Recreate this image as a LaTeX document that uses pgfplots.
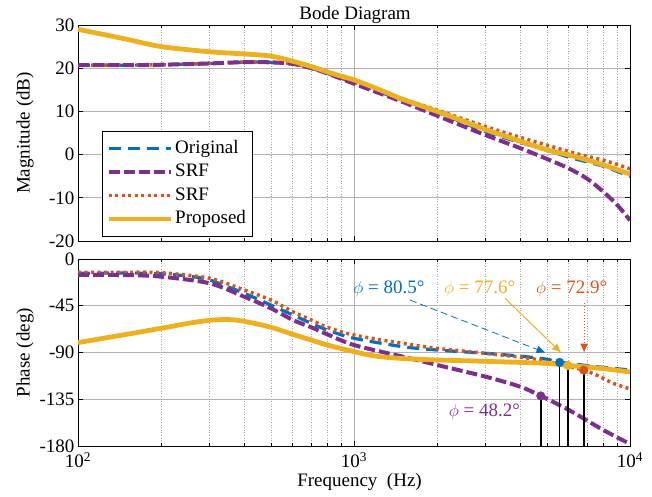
\documentclass[border=0pt]{standalone}
\usepackage{fontspec}
\setmainfont{Liberation Serif}
\usepackage{pgfplots}
\pgfplotsset{compat=1.18}
\usetikzlibrary{arrows.meta}
\definecolor{mblue}{rgb}{0,0.447,0.741}
\definecolor{morange}{rgb}{0.85,0.325,0.098}
\definecolor{myellow}{rgb}{0.929,0.694,0.125}
\definecolor{mpurple}{rgb}{0.494,0.184,0.556}
\newcommand\fs{\fontsize{19}{22}\selectfont}
\tikzset{
  sblue/.style={mblue, line width=3.2pt, dash pattern=on 12pt off 7pt},
  spurple/.style={mpurple, line width=4pt, dash pattern=on 11pt off 4pt},
  sorange/.style={morange, line width=3.5pt, dash pattern=on 3pt off 3.5pt},
  syellow/.style={myellow, line width=4.8pt},
}
\begin{document}
\begin{tikzpicture}
\useasboundingbox (0,0) rectangle (652pt,497pt);
% ---------------- Magnitude ----------------
\begin{axis}[
  xmode=log, xmin=100, xmax=10000, scale only axis, width=552pt,
  xtick={100,1000,10000},
  minor xtick={200,300,400,500,600,700,800,900,2000,3000,4000,5000,6000,7000,8000,9000},
  xtick pos=both, ytick pos=both, tick align=inside,
  major tick length=5pt, minor tick length=3pt,
  every tick/.style={black, line width=0.6pt},
  axis line style={line width=0.8pt},
  grid=both,
  major grid style={gray!60, line width=0.7pt},
  minor grid style={gray!70, line width=0.6pt, dotted},
  tick label style={font=\fs},
  label style={font=\fs},
  yticklabel style={anchor=east},
  at={(78pt,256pt)}, anchor=south west, height=216pt,
  ymin=-20, ymax=30, ytick={-20,-10,0,10,20,30},
  yticklabels={-20,-10,0,10,20,30},
  xticklabels={},
  ylabel={Magnitude (dB)},
  ylabel style={at={(axis description cs:-0.074,0.5)}, anchor=south},
  title={Bode Diagram},
  title style={font=\fs, at={(axis description cs:0.502,1.032)}, anchor=base, yshift=-7pt},
  legend cell align=left,
  legend style={at={(0.0435,0.509)}, anchor=north west, draw=black, line width=0.8pt,
    font=\fs, inner xsep=4pt, inner ysep=8pt, row sep=5.5pt,
    nodes={inner xsep=2pt, inner ysep=0pt, text height=14pt, text depth=4pt}},
]
\addlegendimage{legend image code/.code={\draw[sblue] (0pt,0pt) -- (62pt,0pt);}}\addlegendentry{Original}
\addlegendimage{legend image code/.code={\draw[spurple] (0pt,0pt) -- (62pt,0pt);}}\addlegendentry{SRF}
\addlegendimage{legend image code/.code={\draw[sorange] (0pt,0pt) -- (62pt,0pt);}}\addlegendentry{SRF}
\addlegendimage{legend image code/.code={\draw[syellow] (0pt,0pt) -- (62pt,0pt);}}\addlegendentry{Proposed}
% Original
\addplot[sblue, smooth, forget plot] coordinates {
(100,20.7) (150,20.7) (200,20.8) (300,21.1) (400,21.4) (500,21.35) (600,21.0) (700,20.0) (800,18.8)
(1000,16.6) (1250,14.4) (1500,12.6) (2000,9.8) (3000,5.3) (4000,2.8) (5000,1.0) (6000,-0.6) (7000,-1.7) (8000,-2.7) (9000,-3.9) (10000,-5.1)};
% SRF orange
\addplot[sorange, smooth, forget plot] coordinates {
(100,20.7) (150,20.7) (200,20.8) (300,21.1) (400,21.4) (500,21.35) (600,21.0) (700,20.1) (800,19.0)
(1000,16.8) (1250,14.7) (1500,12.9) (2000,10.3) (3000,6.5) (4000,4.0) (5000,2.2) (6000,0.7) (7000,-0.4) (8000,-1.3) (9000,-2.3) (10000,-3.3)};
% SRF purple
\addplot[spurple, smooth, forget plot] coordinates {
(100,20.7) (150,20.7) (200,20.8) (300,21.1) (400,21.4) (500,21.35) (600,21.0) (700,20.0) (800,18.8)
(1000,16.4) (1250,14.1) (1500,12.2) (2000,9.0) (3000,4.5) (4000,1.5) (5000,-1.0) (6000,-3.2) (7000,-5.6) (8000,-8.6) (9000,-11.7) (10000,-15.2)};
% Proposed
\addplot[syellow, smooth, forget plot] coordinates {
(100,29.0) (150,26.7) (200,25.0) (300,23.8) (400,23.3) (500,22.8) (600,21.6) (700,20.4) (850,18.6)
(1000,17.3) (1250,14.9) (1500,12.8) (2000,10.0) (3000,5.8) (4000,3.1) (5000,1.1) (6000,-0.1) (7000,-1.25) (8000,-2.4) (9000,-3.5) (10000,-4.5)};
\end{axis}
% ---------------- Phase ----------------
\begin{axis}[
  xmode=log, xmin=100, xmax=10000, scale only axis, width=552pt,
  xtick={100,1000,10000},
  minor xtick={200,300,400,500,600,700,800,900,2000,3000,4000,5000,6000,7000,8000,9000},
  xtick pos=both, ytick pos=both, tick align=inside,
  major tick length=5pt, minor tick length=3pt,
  every tick/.style={black, line width=0.6pt},
  axis line style={line width=0.8pt},
  grid=both,
  major grid style={gray!60, line width=0.7pt},
  minor grid style={gray!70, line width=0.6pt, dotted},
  tick label style={font=\fs},
  label style={font=\fs},
  yticklabel style={anchor=east},
  at={(78pt,51pt)}, anchor=south west, height=187pt,
  ymin=-180, ymax=0, ytick={-180,-135,-90,-45,0},
  yticklabels={-180,-135,-90,-45,0},
  xticklabels={10\textsuperscript{2},10\textsuperscript{3},10\textsuperscript{4}},
  xticklabel style={anchor=base, yshift=-22pt},
  ylabel={Phase (deg)},
  ylabel style={at={(axis description cs:-0.074,0.5)}, anchor=south},
  xlabel={Frequency\ \ (Hz)},
  xlabel style={at={(axis description cs:0.51,-0.214)}, anchor=base},
]
\addplot[sblue, smooth] coordinates {
(100,-13.8) (150,-13.5) (200,-14.2) (250,-16.5) (300,-20.2) (400,-33) (500,-44.3) (600,-53.9) (700,-61.9) (800,-68.3)
(1000,-76.3) (1500,-84.4) (2000,-87.6) (3000,-90.8) (4000,-93.5) (5000,-96.5) (5560,-99.3) (7800,-104) (10000,-106.8)};
\addplot[sorange, smooth] coordinates {
(100,-13) (150,-12.8) (200,-13.2) (300,-18.6) (400,-29.8) (500,-39.5) (600,-50.7) (700,-58.7) (800,-65.7)
(1000,-73.2) (1500,-81.2) (2000,-86) (3000,-90.8) (4000,-94.5) (4800,-97.5) (5500,-101) (6800,-107) (7560,-111.7) (8700,-119.7) (10000,-125)};
\addplot[spurple, smooth] coordinates {
(100,-15.4) (150,-15.5) (200,-17) (300,-23.4) (400,-36.3) (500,-47.5) (600,-58.7) (700,-65.7) (800,-72.5)
(1000,-82.8) (1500,-94) (2000,-102) (3000,-113.3) (4000,-122.9) (4750,-131.8) (6000,-145.3) (8000,-164.6) (10000,-178)};
\addplot[syellow, smooth] coordinates {
(100,-80.5) (150,-72.5) (200,-66.7) (250,-62) (300,-59) (350,-58.3) (400,-60) (500,-65.7) (600,-72.5) (700,-78) (800,-82.8)
(1000,-89.2) (1200,-93.5) (1500,-95.8) (2000,-97.2) (3000,-98.5) (5000,-100.5) (5960,-102.4) (8000,-105.5) (10000,-108.8)};
% stems
\addplot[black, line width=1.5pt] coordinates {(4750,-131.8) (4750,-180)};
\addplot[black, line width=1.5pt] coordinates {(5560,-99.5) (5560,-180)};
\addplot[black, line width=1.5pt] coordinates {(5960,-102.6) (5960,-180)};
\addplot[black, line width=1.5pt] coordinates {(6800,-107) (6800,-180)};
% markers
\addplot[only marks, mark=*, mark size=4.3pt, mpurple] coordinates {(4750,-131.8)};
\addplot[only marks, mark=*, mark size=4.3pt, mblue] coordinates {(5560,-99.5)};
\addplot[only marks, mark=*, mark size=4.3pt, myellow] coordinates {(5960,-102.6)};
\addplot[only marks, mark=*, mark size=4.3pt, morange] coordinates {(6800,-107)};
% annotations
\draw[mblue, line width=0.8pt, dash pattern=on 7pt off 4pt, -{Latex[length=9pt,width=8pt]}] (axis cs:1594,-39.5) -- (axis cs:4940,-90.2);
\draw[myellow, line width=1pt, -{Latex[length=9pt,width=8pt]}] (axis cs:3523,-37.8) -- (axis cs:5630,-90.2);
\draw[morange, line width=1pt, dash pattern=on 1.5pt off 1.5pt, -{Latex[length=9pt,width=8pt]}] (axis cs:6818,-42) -- (axis cs:6818,-90.2);
\node[mblue, font=\fs] at (axis cs:1338,-28.9) {$\phi$ = 80.5°};
\node[myellow, font=\fs] at (axis cs:2853,-28.9) {$\phi$ = 77.6°};
\node[morange, font=\fs] at (axis cs:6150,-28.9) {$\phi$ = 72.9°};
\node[mpurple, font=\fs] at (axis cs:2970,-147) {$\phi$ = 48.2°};
\end{axis}
\end{tikzpicture}
\end{document}
